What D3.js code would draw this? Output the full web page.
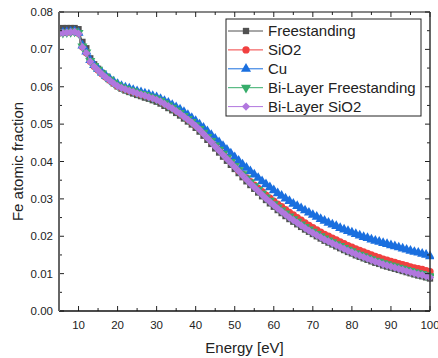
<!DOCTYPE html>
<html>
<head>
<meta charset="utf-8">
<script src="https://cdn.jsdelivr.net/npm/d3@7"></script>
<style>
  html, body { margin: 0; padding: 0; background: #ffffff; }
  svg text { font-family: "Liberation Sans", Arial, sans-serif; fill: #222; }
</style>
</head>
<body>
<div id="chart"></div>
<script>
// photon energy [eV]
const energy = [
  5, 6, 7, 8, 9, 10, 11, 12, 13, 14, 15, 16, 17, 18, 19, 20,
  21, 22, 23, 24, 25, 26, 27, 28, 29, 30, 31, 32, 33, 34, 35, 36, 37, 38, 39, 40,
  41, 42, 43, 44, 45, 46, 47, 48, 49, 50, 51, 52, 53, 54, 55, 56, 57, 58, 59, 60,
  61, 62, 63, 64, 65, 66, 67, 68, 69, 70, 71, 72, 73, 74, 75, 76, 77, 78, 79, 80,
  81, 82, 83, 84, 85, 86, 87, 88, 89, 90, 91, 92, 93, 94, 95, 96, 97, 98, 99, 100
];

const freestanding = [
  .0756, .0757, .0757, .0757, .0757, .0754, .0720, .0703, .0676, .0660, .0648, .0637, .0627, .0618, .0609, .0601,
  .0595, .0590, .0586, .0582, .0578, .0575, .0571, .0568, .0564, .0560, .0555, .0549, .0543, .0537, .0530, .0523, .0515, .0507, .0499, .0490,
  .0480, .0469, .0458, .0447, .0435, .0424, .0413, .0402, .0391, .0380, .0369, .0358, .0347, .0337, .0327, .0317, .0307, .0297, .0288, .0279,
  .0270, .0262, .0254, .0246, .0239, .0232, .0225, .0218, .0212, .0206, .0200, .0194, .0188, .0183, .0178, .0173, .0168, .0163, .0158, .0154,
  .0149, .0145, .0141, .0137, .0133, .0129, .0126, .0122, .0119, .0116, .0113, .0110, .0107, .0104, .0101, .0098, .0095, .0093, .0090, .0087
];

const sio2 = [
  .0744, .0745, .0746, .0747, .0748, .0743, .0707, .0691, .0668, .0655, .0645, .0635, .0626, .0618, .0610, .0603,
  .0598, .0594, .0590, .0587, .0583, .0580, .0577, .0574, .0571, .0567, .0562, .0556, .0550, .0544, .0537, .0530, .0522, .0514, .0506, .0497,
  .0488, .0477, .0466, .0455, .0444, .0433, .0422, .0411, .0400, .0390, .0376, .0366, .0356, .0346, .0337, .0328, .0319, .0310, .0302, .0294,
  .0286, .0279, .0271, .0264, .0257, .0250, .0243, .0236, .0229, .0223, .0217, .0211, .0205, .0200, .0195, .0190, .0185, .0180, .0175, .0171,
  .0166, .0162, .0158, .0154, .0150, .0146, .0143, .0139, .0136, .0133, .0130, .0127, .0124, .0121, .0118, .0115, .0113, .0111, .0108, .0105
];

const cu = [
  .0744, .0745, .0746, .0747, .0748, .0744, .0710, .0694, .0671, .0658, .0648, .0638, .0629, .0621, .0614, .0607,
  .0602, .0598, .0595, .0591, .0588, .0585, .0582, .0579, .0575, .0572, .0567, .0562, .0557, .0551, .0545, .0539, .0532, .0524, .0516, .0508,
  .0499, .0490, .0481, .0471, .0461, .0451, .0441, .0431, .0421, .0411, .0402, .0392, .0383, .0374, .0365, .0356, .0347, .0339, .0331, .0323,
  .0315, .0308, .0301, .0294, .0287, .0281, .0275, .0269, .0263, .0257, .0252, .0246, .0241, .0236, .0231, .0227, .0222, .0218, .0214, .0210,
  .0206, .0202, .0198, .0195, .0191, .0188, .0185, .0182, .0179, .0176, .0173, .0170, .0167, .0164, .0161, .0158, .0156, .0153, .0150, .0146
];

const bilayerFreestanding = [
  .0744, .0745, .0746, .0747, .0748, .0744, .0708, .0692, .0669, .0656, .0646, .0636, .0627, .0619, .0611, .0604,
  .0599, .0595, .0591, .0588, .0584, .0581, .0578, .0574, .0571, .0567, .0562, .0556, .0550, .0544, .0537, .0530, .0522, .0514, .0506, .0497,
  .0487, .0477, .0466, .0455, .0443, .0432, .0421, .0410, .0399, .0388, .0377, .0366, .0355, .0344, .0334, .0324, .0314, .0304, .0295, .0286,
  .0277, .0269, .0261, .0253, .0246, .0239, .0232, .0225, .0218, .0212, .0206, .0200, .0194, .0189, .0184, .0179, .0174, .0169, .0164, .0160,
  .0155, .0151, .0147, .0143, .0139, .0135, .0132, .0128, .0125, .0122, .0119, .0116, .0113, .0110, .0107, .0104, .0101, .0099, .0096, .0093
];

const bilayerSio2 = [
  .0743, .0744, .0745, .0746, .0747, .0742, .0706, .0690, .0667, .0654, .0644, .0634, .0625, .0617, .0609, .0602,
  .0597, .0593, .0589, .0586, .0582, .0579, .0576, .0572, .0569, .0565, .0560, .0554, .0548, .0542, .0535, .0528, .0520, .0512, .0504, .0495,
  .0485, .0474, .0463, .0452, .0440, .0429, .0418, .0407, .0396, .0385, .0374, .0363, .0352, .0341, .0331, .0321, .0311, .0301, .0292, .0283,
  .0274, .0266, .0258, .0250, .0243, .0236, .0229, .0222, .0215, .0209, .0203, .0197, .0191, .0186, .0181, .0176, .0171, .0166, .0161, .0157,
  .0152, .0148, .0144, .0140, .0136, .0132, .0129, .0125, .0122, .0119, .0116, .0113, .0110, .0107, .0104, .0101, .0098, .0096, .0093, .0090
];

const seriesNames = ['Freestanding', 'SiO2', 'Cu', 'Bi-Layer Freestanding', 'Bi-Layer SiO2'];
const seriesValues = [freestanding, sio2, cu, bilayerFreestanding, bilayerSio2];
const xTicks = [10, 20, 30, 40, 50, 60, 70, 80, 90, 100];
const yTicks = [0, 0.01, 0.02, 0.03, 0.04, 0.05, 0.06, 0.07, 0.08];

const colors = ['#515151', '#F14040', '#1A6FDF', '#37AD6B', '#B177DE'];
// square, circle, up triangle, down triangle, diamond
const shapes = [
  { type: d3.symbolSquare, size: 40, rotate: 0 },
  { type: d3.symbolCircle, size: 42, rotate: 0 },
  { type: d3.symbolTriangle, size: 44, rotate: 0 },
  { type: d3.symbolTriangle, size: 44, rotate: 180 },
  { type: d3.symbolSquare, size: 34, rotate: 45 }
];

const width = 438;
const height = 358;
const margin = { top: 12, right: 8, bottom: 47, left: 59 };
const innerW = width - margin.left - margin.right;
const innerH = height - margin.top - margin.bottom;

const svg = d3.select('#chart')
  .append('svg')
  .attr('width', width)
  .attr('height', height);

const x = d3.scaleLinear().domain([5, 100]).range([margin.left, margin.left + innerW]);
const y = d3.scaleLinear().domain([0, 0.08]).range([margin.top + innerH, margin.top]);

const plot = svg.append('g');
plot.append('clipPath').attr('id', 'clip')
  .append('rect')
  .attr('x', margin.left).attr('y', margin.top - 4)
  .attr('width', innerW + 4).attr('height', innerH + 4);

const line = d3.line()
  .x((d, i) => x(energy[i]))
  .y(d => y(d));

const symbolPath = (s) => d3.symbol().type(s.type).size(s.size)();

seriesValues.forEach((vals, k) => {
  const g = plot.append('g').attr('clip-path', 'url(#clip)');
  g.append('path')
    .datum(vals)
    .attr('d', line)
    .attr('fill', 'none')
    .attr('stroke', colors[k])
    .attr('stroke-width', 1);
  g.selectAll('path.pt')
    .data(vals)
    .enter()
    .append('path')
    .attr('class', 'pt')
    .attr('d', symbolPath(shapes[k]))
    .attr('transform', (d, i) => `translate(${x(energy[i])},${y(d)}) rotate(${shapes[k].rotate})`)
    .attr('fill', colors[k]);
});

// axes: ticks point inwards on all four sides
const minorX = d3.range(5, 101, 5);
const minorY = d3.range(0, 0.0801, 0.005);

const axisBottom = svg.append('g').attr('transform', `translate(0,${margin.top + innerH})`);
axisBottom.selectAll('line').data(minorX).enter().append('line')
  .attr('x1', d => x(d)).attr('x2', d => x(d))
  .attr('y1', 0).attr('y2', d => xTicks.includes(d) ? -5 : -3)
  .attr('stroke', '#222');
axisBottom.selectAll('text').data(xTicks).enter().append('text')
  .attr('x', d => x(d)).attr('y', 18)
  .attr('text-anchor', 'middle')
  .attr('font-size', '11.5px')
  .text(d => d);

const axisTop = svg.append('g').attr('transform', `translate(0,${margin.top})`);
axisTop.selectAll('line').data(minorX).enter().append('line')
  .attr('x1', d => x(d)).attr('x2', d => x(d))
  .attr('y1', 0).attr('y2', d => xTicks.includes(d) ? 5 : 3)
  .attr('stroke', '#222');

const isMajorY = d => Math.abs(Math.round(d * 100) - d * 100) < 1e-6;

const axisLeft = svg.append('g').attr('transform', `translate(${margin.left},0)`);
axisLeft.selectAll('line').data(minorY).enter().append('line')
  .attr('y1', d => y(d)).attr('y2', d => y(d))
  .attr('x1', 0).attr('x2', d => isMajorY(d) ? 5 : 3)
  .attr('stroke', '#222');
axisLeft.selectAll('text').data(yTicks).enter().append('text')
  .attr('x', -6).attr('y', d => y(d))
  .attr('dy', '0.35em')
  .attr('text-anchor', 'end')
  .attr('font-size', '11.5px')
  .text(d => d.toFixed(2));

const axisRight = svg.append('g').attr('transform', `translate(${margin.left + innerW},0)`);
axisRight.selectAll('line').data(minorY).enter().append('line')
  .attr('y1', d => y(d)).attr('y2', d => y(d))
  .attr('x1', 0).attr('x2', d => isMajorY(d) ? -5 : -3)
  .attr('stroke', '#222');

// frame
svg.append('line')
  .attr('x1', margin.left).attr('x2', margin.left + innerW)
  .attr('y1', margin.top).attr('y2', margin.top)
  .attr('stroke', '#111').attr('stroke-width', 1.2);
svg.append('line')
  .attr('x1', margin.left).attr('x2', margin.left + innerW)
  .attr('y1', margin.top + innerH).attr('y2', margin.top + innerH)
  .attr('stroke', '#111').attr('stroke-width', 1.5);
svg.append('line')
  .attr('x1', margin.left + innerW).attr('x2', margin.left + innerW)
  .attr('y1', margin.top).attr('y2', margin.top + innerH)
  .attr('stroke', '#333').attr('stroke-width', 1.5);
svg.append('line')
  .attr('x1', margin.left).attr('x2', margin.left)
  .attr('y1', margin.top).attr('y2', margin.top + innerH)
  .attr('stroke', '#666').attr('stroke-width', 2);

// axis titles
svg.append('text')
  .attr('x', margin.left + innerW / 2).attr('y', 353)
  .attr('text-anchor', 'middle')
  .attr('font-size', '15px')
  .text('Energy [eV]');
svg.append('text')
  .attr('transform', `translate(22.5,${margin.top + innerH / 2}) rotate(-90)`)
  .attr('text-anchor', 'middle')
  .attr('font-size', '15px')
  .text('Fe atomic fraction');

// legend
const legend = svg.append('g').attr('transform', 'translate(226,19)');
legend.append('rect')
  .attr('width', 195).attr('height', 97)
  .attr('fill', '#fff')
  .attr('stroke', '#222').attr('stroke-width', 1);

const items = legend.selectAll('g.item')
  .data(seriesNames)
  .enter()
  .append('g')
  .attr('class', 'item')
  .attr('transform', (d, i) => `translate(0,${12 + i * 18.9})`);
items.append('line')
  .attr('x1', 2).attr('x2', 37)
  .attr('stroke', (d, i) => colors[i])
  .attr('stroke-width', 1);
items.append('path')
  .attr('d', (d, i) => symbolPath(shapes[i]))
  .attr('transform', (d, i) => `translate(20,0) rotate(${shapes[i].rotate})`)
  .attr('fill', (d, i) => colors[i]);
items.append('text')
  .attr('x', 42).attr('dy', '0.36em')
  .attr('font-size', '15px')
  .text(d => d);
</script>
</body>
</html>
